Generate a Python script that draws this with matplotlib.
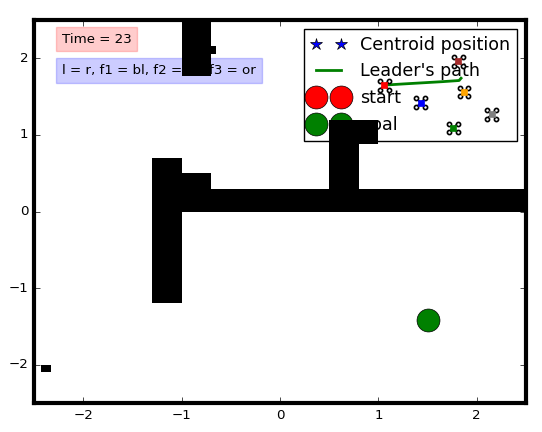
import matplotlib
matplotlib.use("Agg")
import matplotlib.pyplot as plt
from matplotlib.patches import Rectangle

plt.style.use('classic')

# Obstacles: (x0, y0, width, height)
obstacles_x = [-1.0, -0.75, -1.3, -1.0, -1.0, 0.5, 0.5, -2.43]
obstacles_y = [1.77, 2.06, -1.2, 0.3, 0.0, 0.3, 0.88, -2.1]
obstacles_w = [0.3, 0.1, 0.3, 0.3, 3.5, 0.3, 0.5, 0.1]
obstacles_h = [0.8, 0.1, 1.9, 0.2, 0.3, 0.6, 0.32, 0.1]

# Drones
drone_x = [1.06, 1.81, 1.87, 1.43, 2.15, 1.76]
drone_y = [1.65, 1.96, 1.56, 1.42, 1.27, 1.09]
drone_colors = ['red', 'brown', 'orange', 'blue', 'gray', 'green']

# Leader's path
path_x = [1.06, 1.25, 1.45, 1.65, 1.82, 1.84]
path_y = [1.65, 1.665, 1.68, 1.695, 1.71, 1.74]

goal_x = [1.5]
goal_y = [-1.42]
start_x = []
start_y = []
centroid_x = []
centroid_y = []

time_label = "Time = 23"
assign_label = "l = r, f1 = bl, f2 = br, f3 = or"

fig = plt.figure(figsize=(5.42, 4.32), dpi=100)
ax = fig.add_axes([34/542, 29/432, 492/542, 383/432])
ax.set_xlim(-2.5, 2.5)
ax.set_ylim(-2.5, 2.5)
for s in ax.spines.values():
    s.set_linewidth(3)
ax.tick_params(labelsize=9.6)
ax.set_xticks([-2, -1, 0, 1, 2])
ax.set_yticks([-2, -1, 0, 1, 2])

for x0, y0, w, h in zip(obstacles_x, obstacles_y, obstacles_w, obstacles_h):
    ax.add_patch(Rectangle((x0, y0), w, h, facecolor='black', edgecolor='none', zorder=6))

ax.plot(centroid_x, centroid_y, 'b*', markersize=9, label='Centroid position', zorder=7)
ax.plot(path_x, path_y, 'g-', linewidth=2, label="Leader's path", zorder=7)
ax.plot(start_x, start_y, 'ro', markersize=16.5, label='start', zorder=7)
ax.plot(goal_x, goal_y, 'go', markersize=16.5, label='goal', zorder=7)

dx, dy = 0.045, 0.058
for x, y, c in zip(drone_x, drone_y, drone_colors):
    ax.plot([x - dx, x + dx], [y - dy, y + dy], 'k-', lw=1.2, zorder=8)
    ax.plot([x - dx, x + dx], [y + dy, y - dy], 'k-', lw=1.2, zorder=8)
    ax.plot([x - dx, x + dx, x - dx, x + dx], [y - dy, y - dy, y + dy, y + dy],
            'o', ms=3, mfc='white', mec='black', mew=1.2, linestyle='none', zorder=9)
    ax.plot([x], [y], 's', ms=4.5, mfc=c, mec=c, zorder=9)

ax.text(0.057, 0.95, time_label, transform=ax.transAxes, fontsize=9.6, va='center',
        bbox=dict(facecolor='red', alpha=0.2, edgecolor='red'), zorder=3)
ax.text(0.057, 0.868, assign_label, transform=ax.transAxes, fontsize=9.6, va='center',
        bbox=dict(facecolor='blue', alpha=0.2, edgecolor='blue'), zorder=3)

leg = ax.legend(loc='upper right', numpoints=2, fontsize=12.6)
leg.set_zorder(5)

fig.savefig('out.png', dpi=100)
